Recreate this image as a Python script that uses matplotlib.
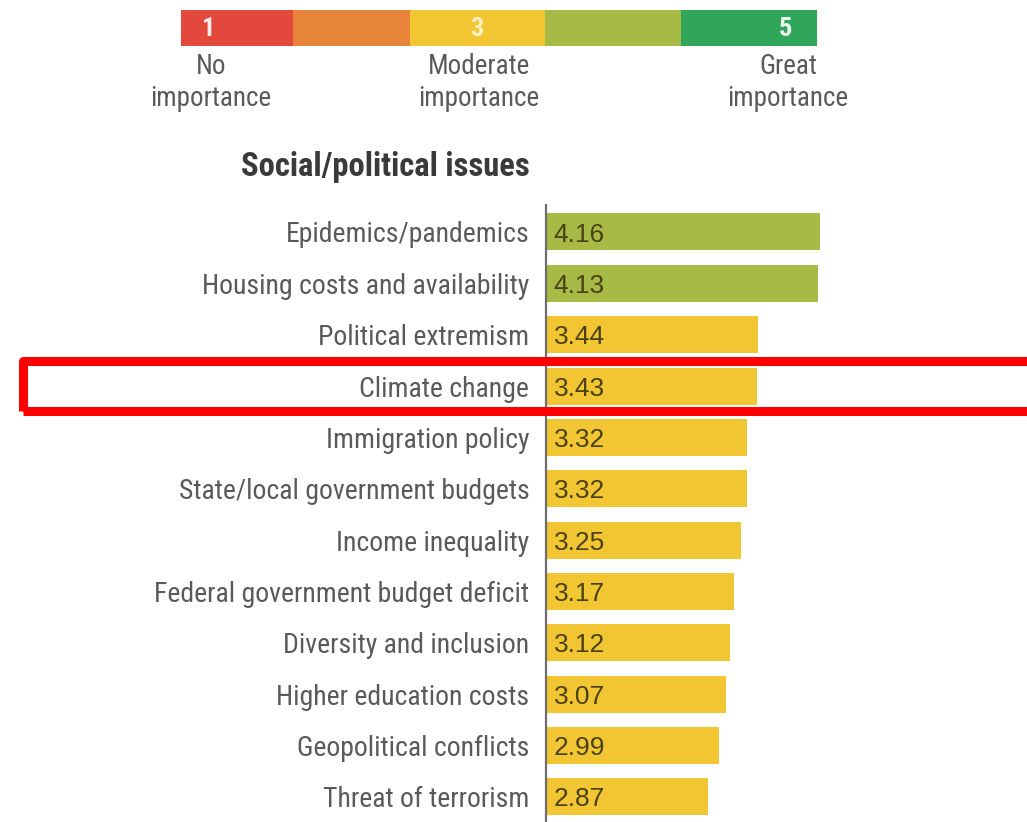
import matplotlib.pyplot as plt
from matplotlib.patches import Rectangle

W, H = 1027, 822

issues = [
    'Epidemics/pandemics',
    'Housing costs and availability',
    'Political extremism',
    'Climate change',
    'Immigration policy',
    'State/local government budgets',
    'Income inequality',
    'Federal government budget deficit',
    'Diversity and inclusion',
    'Higher education costs',
    'Geopolitical conflicts',
    'Threat of terrorism',
]
scores = [4.16, 4.13, 3.44, 3.43, 3.32, 3.32, 3.25, 3.17, 3.12, 3.07, 2.99, 2.87]

scale_levels = [1, 2, 3, 4, 5]
scale_colors = ['#E2483B', '#E8843A', '#F2C532', '#A7BA46', '#2FA659']
scale_numbers = {1: '1', 3: '3', 5: '5'}
scale_names = {1: ('No', 'importance'), 3: ('Moderate', 'importance'),
               5: ('Great', 'importance')}

highlight = 'Climate change'

narrow = ['Roboto Condensed', 'DejaVu Sans']
label_gray = '#5a5a5a'


def fx(x):
    return x / W


def fy(y):
    return 1 - y / H


def bar_color(v):
    # the bar takes the colour of the nearest scale level
    return scale_colors[int(round(v)) - 1]


fig = plt.figure(figsize=(W / 100, H / 100), dpi=100)

# colour scale at the top
edges = [181, 293, 410, 545, 681, 817]
sax = fig.add_axes([fx(181), fy(46), fx(817 - 181), 36 / H])
for i, lvl in enumerate(scale_levels):
    sax.barh(0, edges[i + 1] - edges[i], left=edges[i], height=1,
             color=scale_colors[i], edgecolor='none')
sax.set_xlim(181, 817)
sax.set_ylim(-0.5, 0.5)
sax.axis('off')

num_x = {1: 209, 3: 477, 5: 786}
num_col = {1: '#fbeeea', 3: '#fbf0c4', 5: '#eef8ef'}
for lvl, txt in scale_numbers.items():
    fig.text(fx(num_x[lvl]), fy(29), txt, ha='center', va='center',
             color=num_col[lvl], fontsize=19, fontweight='bold', family=narrow)
name_x = {1: 211, 3: 479, 5: 788}
for lvl, (l1, l2) in scale_names.items():
    fig.text(fx(name_x[lvl]), fy(66), l1, ha='center', va='center',
             color=label_gray, fontsize=19.5, family=narrow)
    fig.text(fx(name_x[lvl]), fy(98), l2, ha='center', va='center',
             color=label_gray, fontsize=19.5, family=narrow)

fig.text(fx(530), fy(167), 'Social/political issues', ha='right', va='center',
         color='#3a3a3a', fontsize=23.5, fontweight='bold', family=narrow)

# bar chart, bars start at 1 (bottom of the scale)
ax = fig.add_axes([fx(546), 0, fx(W - 546), (H - 205) / H])
y = list(range(len(issues)))
ax.barh(y, [v - 1 for v in scores], left=1, height=0.72,
        color=[bar_color(v) for v in scores], edgecolor='none')
for yi, v in zip(y, scores):
    ax.text(1.09, yi + 0.05, f'{v:.2f}', ha='left', va='center',
            color='#4a4216', fontsize=19, family=['Liberation Sans', 'DejaVu Sans'])

ax.set_xlim(1, 1 + (W - 546) / 86.8)
ax.set_ylim(11.49, -0.525)
ax.set_yticks(y)
ax.set_yticklabels(issues, family=narrow, fontsize=20, color=label_gray)
ax.tick_params(axis='y', length=0, pad=12)
ax.set_xticks([])
for s in ['top', 'right', 'bottom']:
    ax.spines[s].set_visible(False)
ax.spines['left'].set_color('#6e6e6e')
ax.spines['left'].set_linewidth(1.6)

# red frame around the highlighted row
row = issues.index(highlight)
yc = 232 + row * 51.4
fig.patches.append(Rectangle((fx(23), fy(yc + 25)), fx(1040 - 23), 50 / H,
                             transform=fig.transFigure, fill=False,
                             edgecolor='#ff0000', linewidth=6.5,
                             joinstyle='round'))

fig.savefig('out.png', dpi=100, facecolor='white')
